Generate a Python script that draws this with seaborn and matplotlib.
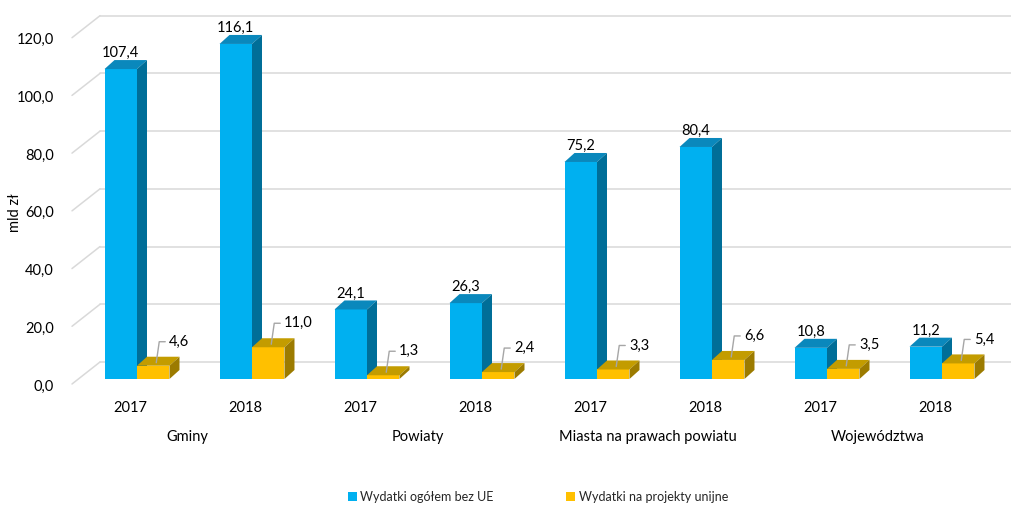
import numpy as np
import pandas as pd
import matplotlib
matplotlib.use("Agg")
import matplotlib.pyplot as plt
import matplotlib.transforms as mtransforms
from matplotlib.patches import Polygon, Patch
import seaborn as sns

# dane (mld zł)
kategorie = ["Gminy", "Powiaty", "Miasta na prawach powiatu", "Województwa"]
lata = ["2017", "2018"]
wydatki_bez_ue = [107.4, 116.1, 24.1, 26.3, 75.2, 80.4, 10.8, 11.2]
wydatki_unijne = [4.6, 11.0, 1.3, 2.4, 3.3, 6.6, 3.5, 5.4]
serie = ["Wydatki ogółem bez UE", "Wydatki na projekty unijne"]
y_ticks = [0, 20, 40, 60, 80, 100, 120]

grupy = [f"{k} {r}" for k in kategorie for r in lata]
df = pd.DataFrame({
    "grupa": grupy * 2,
    "seria": [serie[0]] * len(grupy) + [serie[1]] * len(grupy),
    "wartosc": wydatki_bez_ue + wydatki_unijne,
})

sns.set_theme(style="white")
plt.rcParams["font.family"] = ["Lato", "DejaVu Sans"]

kolory = {serie[0]: "#00B0F0", serie[1]: "#FFC000"}
gora = {serie[0]: "#0A88BC", serie[1]: "#C39C00"}
bok = {serie[0]: "#006E98", serie[1]: "#9C7B00"}

W, H = 1011, 507
fig = plt.figure(figsize=(W / 100, H / 100), dpi=100)
ax = fig.add_axes([72 / W, 128 / H, 913 / W, 346.3 / H])

sns.barplot(data=df, x="grupa", y="wartosc", hue="seria", order=grupy,
            hue_order=serie, palette=kolory, width=0.565, saturation=1,
            legend=False, ax=ax, zorder=2, linewidth=0, edgecolor="none")

x0 = (72 - 137) / 115
ax.set_xlim(x0, x0 + 913 / 115)
ax.set_ylim(0, 120)
for s in ax.spines.values():
    s.set_visible(False)
ax.set_xlabel("")
ax.set_ylabel("")


def px(dx, dy):
    # przesunięcie w pikselach -> jednostki danych
    inv = ax.transData.inverted()
    a = inv.transform((0, 0))
    b = inv.transform((dx, -dy))
    return b[0] - a[0], b[1] - a[1]


# siatka na tylnej ścianie + ukośne linie bocznej ściany
gx, gy = px(28, -17)
fx, fy = px(0, 5)
xr = ax.get_xlim()[1] + px(26, 0)[0]
for v in y_ticks:
    ax.plot([x0, x0 + gx], [v + fy, v + gy], color="#D9D9D9", lw=1.1,
            clip_on=False, zorder=0)
    ax.plot([x0 + gx, xr], [v + gy, v + gy], color="#D9D9D9", lw=1.1,
            clip_on=False, zorder=0)

# efekt 3D słupków
ddx, ddy = px(10, -9)
slupki = [p for p in ax.patches]
n = len(grupy)
for i, p in enumerate(slupki):
    seria = serie[0] if i < n else serie[1]
    xa, xb = p.get_x(), p.get_x() + p.get_width()
    yb = p.get_height()
    z = 3 + (i % n) * 3 + (0 if i < n else 1.5)
    p.set_zorder(z)
    top = Polygon([(xa, yb), (xb, yb), (xb + ddx, yb + ddy), (xa + ddx, yb + ddy)],
                  closed=True, fc=gora[seria], ec="none", zorder=z + 0.1)
    side = Polygon([(xb, 0), (xb + ddx, ddy), (xb + ddx, yb + ddy), (xb, yb)],
                   closed=True, fc=bok[seria], ec="none", zorder=z + 0.1)
    ax.add_patch(top)
    ax.add_patch(side)
    etykieta = f"{yb:.1f}".replace(".", ",")
    cx = xa + p.get_width() / 2
    if i < n:
        ax.annotate(etykieta, (cx, yb + ddy), xytext=(0, 0),
                    textcoords="offset pixels", ha="center", va="bottom",
                    fontsize=10.5, color="black", zorder=40)
    else:
        lx1, ly1 = px(3, -3)
        lx2, ly2 = px(6, -24)
        lx3, _ = px(12, 0)
        ax.plot([cx + lx1, cx + lx2, cx + lx3], [yb + ly1, yb + ly2, yb + ly2],
                color="#A6A6A6", lw=1, zorder=40, clip_on=False)
        tx, _ = px(16, 0)
        ax.text(cx + tx, yb + ly2, etykieta, ha="left", va="center",
                fontsize=10.5, color="black", zorder=40)

# osie
ax.set_yticks(y_ticks)
ax.set_yticklabels([f"{v:.1f}".replace(".", ",") for v in y_ticks])
ax.tick_params(axis="y", length=0, pad=13, labelsize=10.5, labelcolor="black")
for lab in ax.get_yticklabels():
    lab.set_transform(lab.get_transform() +
                      mtransforms.ScaledTranslation(0, -0.06, fig.dpi_scale_trans))

ax.set_xticks(np.arange(n))
ax.set_xticklabels(lata * len(kategorie))
ax.tick_params(axis="x", length=0, pad=16, labelsize=10.5, labelcolor="black")
for lab in ax.get_xticklabels():
    lab.set_transform(lab.get_transform() +
                      mtransforms.ScaledTranslation(-0.07, 0, fig.dpi_scale_trans))

for k, nazwa in enumerate(kategorie):
    ax.text(2 * k + 0.5 - 0.06, -0.1675, nazwa, transform=ax.get_xaxis_transform(),
            ha="center", va="center", fontsize=10.5, color="black")

fig.text(15 / W, 1 - 213 / H, "mld zł", rotation=90, ha="center", va="center",
         fontsize=10.5, color="black")

uchwyty = [Patch(facecolor=kolory[s], edgecolor="none", label=s) for s in serie]
fig.legend(handles=uchwyty, loc="center", bbox_to_anchor=(538 / W, 1 - 497 / H),
           ncol=2, frameon=False, fontsize=9, handlelength=0.7, handleheight=0.7,
           handletextpad=0.3, columnspacing=5.8)

fig.savefig("out.png", dpi=100)
